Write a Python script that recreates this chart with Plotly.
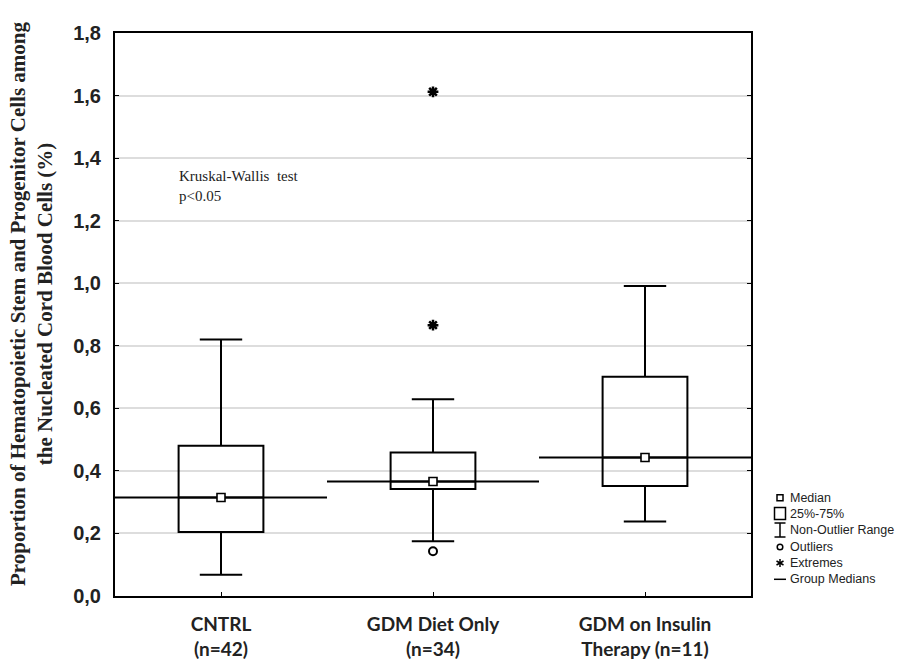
import plotly.graph_objects as go

# ---------------- data ----------------
categories = ["CNTRL<br>(n=42)", "GDM Diet Only<br>(n=34)", "GDM on Insulin<br>Therapy (n=11)"]
q1_vals = [0.205, 0.342, 0.352]
median_vals = [0.315, 0.366, 0.443]
q3_vals = [0.480, 0.459, 0.701]
lower_vals = [0.068, 0.175, 0.238]
upper_vals = [0.820, 0.629, 0.991]
outlier_groups = [1]
outlier_vals = [0.143]
extreme_groups = [1, 1]
extreme_vals = [0.866, 1.612]
y_ticks = [0.0, 0.2, 0.4, 0.6, 0.8, 1.0, 1.2, 1.4, 1.6, 1.8]
legend_labels = ["Median", "25%-75%", "Non-Outlier Range", "Outliers", "Extremes", "Group Medians"]
y_title = "Proportion of Hematopoietic Stem and Progenitor Cells among<br>the Nucleated Cord Blood Cells (%)"

pos = list(range(len(categories)))

fig = go.Figure()

# boxes
for i in pos:
    fig.add_trace(go.Box(
        x=[i], q1=[q1_vals[i]], median=[median_vals[i]], q3=[q3_vals[i]],
        lowerfence=[lower_vals[i]], upperfence=[upper_vals[i]],
        width=0.4, whiskerwidth=0.5,
        line=dict(color="black", width=2), fillcolor="rgba(255,255,255,0)",
        boxpoints=False, showlegend=False, hoverinfo="skip"))

# group medians (segments spanning each group's slot)
for i in pos:
    fig.add_trace(go.Scatter(
        x=[i - 0.5, i + 0.5], y=[median_vals[i], median_vals[i]], mode="lines",
        line=dict(color="black", width=2), showlegend=False, hoverinfo="skip"))

# median markers
fig.add_trace(go.Scatter(
    x=pos, y=median_vals, mode="markers",
    marker=dict(symbol="square", size=8, color="white", line=dict(color="black", width=1.6)),
    showlegend=False, hoverinfo="skip"))

# outliers
fig.add_trace(go.Scatter(
    x=outlier_groups, y=outlier_vals, mode="markers",
    marker=dict(symbol="circle", size=8, color="white", line=dict(color="black", width=2)),
    showlegend=False, hoverinfo="skip"))

# extremes
fig.add_trace(go.Scatter(
    x=extreme_groups, y=extreme_vals, mode="markers",
    marker=dict(symbol="asterisk-open", size=9, color="black", line=dict(color="black", width=2.5)),
    showlegend=False, hoverinfo="skip"))

# ---------------- layout ----------------
# target plot area in page pixels; the page body adds an 8px offset
OFF = 8
X0, X1, Y0, Y1 = 115, 751, 33, 596
W, H = 920, 662


def px(xpix):
    return (xpix - X0) / (X1 - X0)


def py(ypix):
    return (Y1 - ypix) / (Y1 - Y0)


fig.update_layout(
    width=W, height=H,
    margin=dict(l=X0 - OFF, r=W - (X1 - OFF), t=Y0 - OFF, b=H - (Y1 - OFF), autoexpand=False),
    paper_bgcolor="white", plot_bgcolor="white",
    xaxis=dict(range=[-0.5, 2.5], tickvals=pos,
               ticktext=["<b>" + c.replace("<br>", "</b><br><b>") + "</b>" for c in categories],
               showgrid=False, zeroline=False, showline=True, linecolor="black", linewidth=2,
               mirror=True, ticks="inside", ticklen=4, tickcolor="black", tickwidth=1,
               automargin=False,
               tickfont=dict(family="Lato", size=19, color="#222"), ticklabelstandoff=10),
    yaxis=dict(range=[0, 1.8], tickvals=y_ticks,
               ticktext=["<b>" + f"{v:.1f}".replace(".", ",") + "</b>" for v in y_ticks],
               showgrid=True, gridcolor="#dddddd", gridwidth=1.5, zeroline=False,
               showline=True, linecolor="black", linewidth=2, mirror="ticks",
               ticks="inside", ticklen=4, tickcolor="black", tickwidth=1,
               automargin=False,
               tickfont=dict(family="Arial, Liberation Sans", size=20, color="#222"),
               ticklabelstandoff=8),
)

# y-axis title as rotated annotation
fig.add_annotation(xref="paper", yref="paper", x=px(31), y=py(304), xanchor="center", yanchor="middle",
                   text="<b>" + y_title.replace("<br>", "</b><br><b>") + "</b>", textangle=-90,
                   showarrow=False, align="center",
                   font=dict(family="Liberation Serif", size=21, color="#222"))

# Kruskal-Wallis annotation
fig.add_annotation(xref="paper", yref="paper", x=px(177), y=py(166), xanchor="left", yanchor="top",
                   text="Kruskal-Wallis  test<br>p<0.05", showarrow=False, align="left",
                   font=dict(family="Liberation Serif", size=15, color="#222"))

# manual legend
rows = [497.7, 513.5, 530, 547, 563, 579.3]
for lab, yy in zip(legend_labels, rows):
    fig.add_annotation(xref="paper", yref="paper", x=px(788), y=py(yy), xanchor="left", yanchor="middle",
                       text=lab, showarrow=False, font=dict(family="Arial, Liberation Sans", size=12.5, color="#222"))

ln = dict(color="black", width=1.5)
cx = 780
# median small square
fig.add_shape(type="rect", xref="paper", yref="paper", x0=px(cx - 3), x1=px(cx + 3),
              y0=py(rows[0] - 3), y1=py(rows[0] + 3), line=ln)
# 25-75 big square
fig.add_shape(type="rect", xref="paper", yref="paper", x0=px(774.5), x1=px(785.5),
              y0=py(rows[1] - 6), y1=py(rows[1] + 6), line=ln)
# non-outlier I-beam
fig.add_shape(type="line", xref="paper", yref="paper", x0=px(cx), x1=px(cx),
              y0=py(rows[2] - 7), y1=py(rows[2] + 7), line=ln)
for d in (-7, 7):
    fig.add_shape(type="line", xref="paper", yref="paper", x0=px(774.5), x1=px(785.5),
                  y0=py(rows[2] + d), y1=py(rows[2] + d), line=ln)
# outlier circle
fig.add_shape(type="circle", xref="paper", yref="paper", x0=px(cx - 2.8), x1=px(cx + 2.8),
              y0=py(rows[3] - 2.8), y1=py(rows[3] + 2.8), line=ln)
# extremes asterisk
fig.add_shape(type="line", xref="paper", yref="paper", x0=px(cx), x1=px(cx),
              y0=py(rows[4] - 4), y1=py(rows[4] + 4), line=ln)
fig.add_shape(type="line", xref="paper", yref="paper", x0=px(cx - 3.5), x1=px(cx + 3.5),
              y0=py(rows[4] - 2), y1=py(rows[4] + 2), line=ln)
fig.add_shape(type="line", xref="paper", yref="paper", x0=px(cx - 3.5), x1=px(cx + 3.5),
              y0=py(rows[4] + 2), y1=py(rows[4] - 2), line=ln)
# group medians line
fig.add_shape(type="line", xref="paper", yref="paper", x0=px(774), x1=px(786),
              y0=py(rows[5]), y1=py(rows[5]), line=ln)

fig.write_html("out.html")
